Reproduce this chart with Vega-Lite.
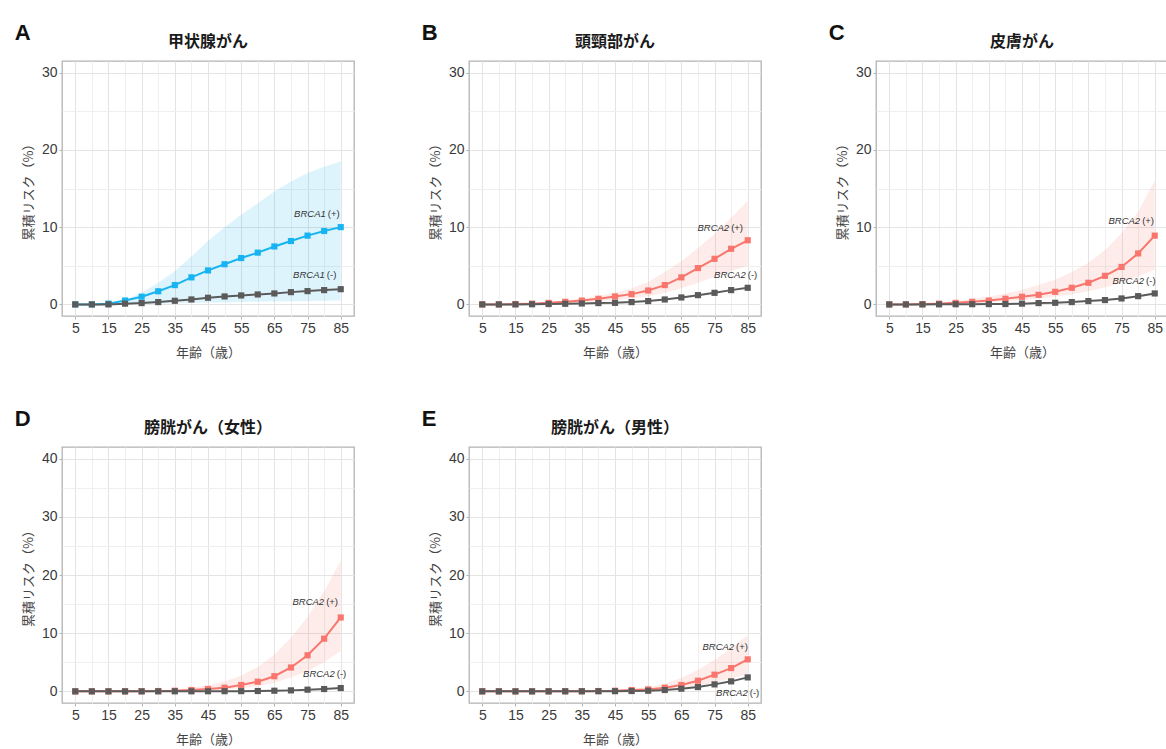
{
  "$schema": "https://vega.github.io/schema/vega-lite/v6.json",
  "background": "white",
  "padding": {"left": 14, "top": 22, "right": 0, "bottom": 0},
  "datasets": {
    "curves": [
      {"panel": "A", "series": "BRCA1+", "age": 5, "risk": 0, "lo": 0, "hi": 0},
      {"panel": "A", "series": "BRCA1+", "age": 10, "risk": 0, "lo": 0, "hi": 0},
      {"panel": "A", "series": "BRCA1+", "age": 15, "risk": 0.1, "lo": 0, "hi": 0.15},
      {"panel": "A", "series": "BRCA1+", "age": 20, "risk": 0.5, "lo": 0.03, "hi": 0.6},
      {"panel": "A", "series": "BRCA1+", "age": 25, "risk": 1.0, "lo": 0.06, "hi": 1.5},
      {"panel": "A", "series": "BRCA1+", "age": 30, "risk": 1.7, "lo": 0.1, "hi": 2.8},
      {"panel": "A", "series": "BRCA1+", "age": 35, "risk": 2.5, "lo": 0.14, "hi": 4.3},
      {"panel": "A", "series": "BRCA1+", "age": 40, "risk": 3.5, "lo": 0.18, "hi": 6.2},
      {"panel": "A", "series": "BRCA1+", "age": 45, "risk": 4.4, "lo": 0.22, "hi": 8.2},
      {"panel": "A", "series": "BRCA1+", "age": 50, "risk": 5.2, "lo": 0.26, "hi": 10.0},
      {"panel": "A", "series": "BRCA1+", "age": 55, "risk": 6.0, "lo": 0.3, "hi": 11.6},
      {"panel": "A", "series": "BRCA1+", "age": 60, "risk": 6.7, "lo": 0.34, "hi": 13.1},
      {"panel": "A", "series": "BRCA1+", "age": 65, "risk": 7.5, "lo": 0.38, "hi": 14.6},
      {"panel": "A", "series": "BRCA1+", "age": 70, "risk": 8.2, "lo": 0.42, "hi": 15.9},
      {"panel": "A", "series": "BRCA1+", "age": 75, "risk": 8.9, "lo": 0.45, "hi": 17.0},
      {"panel": "A", "series": "BRCA1+", "age": 80, "risk": 9.5, "lo": 0.48, "hi": 17.8},
      {"panel": "A", "series": "BRCA1+", "age": 85, "risk": 10.0, "lo": 0.5, "hi": 18.5},
      {"panel": "A", "series": "neg", "age": 5, "risk": 0},
      {"panel": "A", "series": "neg", "age": 10, "risk": 0},
      {"panel": "A", "series": "neg", "age": 15, "risk": 0.0},
      {"panel": "A", "series": "neg", "age": 20, "risk": 0.1},
      {"panel": "A", "series": "neg", "age": 25, "risk": 0.17},
      {"panel": "A", "series": "neg", "age": 30, "risk": 0.3},
      {"panel": "A", "series": "neg", "age": 35, "risk": 0.47},
      {"panel": "A", "series": "neg", "age": 40, "risk": 0.64},
      {"panel": "A", "series": "neg", "age": 45, "risk": 0.86},
      {"panel": "A", "series": "neg", "age": 50, "risk": 1.03},
      {"panel": "A", "series": "neg", "age": 55, "risk": 1.16},
      {"panel": "A", "series": "neg", "age": 60, "risk": 1.29},
      {"panel": "A", "series": "neg", "age": 65, "risk": 1.42},
      {"panel": "A", "series": "neg", "age": 70, "risk": 1.59},
      {"panel": "A", "series": "neg", "age": 75, "risk": 1.72},
      {"panel": "A", "series": "neg", "age": 80, "risk": 1.85},
      {"panel": "A", "series": "neg", "age": 85, "risk": 1.97},

      {"panel": "B", "series": "BRCA2+", "age": 5, "risk": 0, "lo": 0, "hi": 0},
      {"panel": "B", "series": "BRCA2+", "age": 10, "risk": 0, "lo": 0, "hi": 0},
      {"panel": "B", "series": "BRCA2+", "age": 15, "risk": 0.04, "lo": 0.02, "hi": 0.05},
      {"panel": "B", "series": "BRCA2+", "age": 20, "risk": 0.1, "lo": 0.05, "hi": 0.15},
      {"panel": "B", "series": "BRCA2+", "age": 25, "risk": 0.2, "lo": 0.1, "hi": 0.3},
      {"panel": "B", "series": "BRCA2+", "age": 30, "risk": 0.34, "lo": 0.18, "hi": 0.5},
      {"panel": "B", "series": "BRCA2+", "age": 35, "risk": 0.5, "lo": 0.28, "hi": 0.75},
      {"panel": "B", "series": "BRCA2+", "age": 40, "risk": 0.73, "lo": 0.4, "hi": 1.1},
      {"panel": "B", "series": "BRCA2+", "age": 45, "risk": 1.03, "lo": 0.55, "hi": 1.5},
      {"panel": "B", "series": "BRCA2+", "age": 50, "risk": 1.33, "lo": 0.75, "hi": 2.1},
      {"panel": "B", "series": "BRCA2+", "age": 55, "risk": 1.8, "lo": 1.05, "hi": 2.9},
      {"panel": "B", "series": "BRCA2+", "age": 60, "risk": 2.5, "lo": 1.5, "hi": 4.2},
      {"panel": "B", "series": "BRCA2+", "age": 65, "risk": 3.5, "lo": 2.1, "hi": 5.6},
      {"panel": "B", "series": "BRCA2+", "age": 70, "risk": 4.7, "lo": 2.8, "hi": 7.3},
      {"panel": "B", "series": "BRCA2+", "age": 75, "risk": 5.9, "lo": 3.5, "hi": 9.1},
      {"panel": "B", "series": "BRCA2+", "age": 80, "risk": 7.2, "lo": 4.3, "hi": 11.2},
      {"panel": "B", "series": "BRCA2+", "age": 85, "risk": 8.3, "lo": 5.0, "hi": 13.4},
      {"panel": "B", "series": "neg", "age": 5, "risk": 0},
      {"panel": "B", "series": "neg", "age": 10, "risk": 0},
      {"panel": "B", "series": "neg", "age": 15, "risk": 0},
      {"panel": "B", "series": "neg", "age": 20, "risk": 0.02},
      {"panel": "B", "series": "neg", "age": 25, "risk": 0.05},
      {"panel": "B", "series": "neg", "age": 30, "risk": 0.08},
      {"panel": "B", "series": "neg", "age": 35, "risk": 0.12},
      {"panel": "B", "series": "neg", "age": 40, "risk": 0.17},
      {"panel": "B", "series": "neg", "age": 45, "risk": 0.2},
      {"panel": "B", "series": "neg", "age": 50, "risk": 0.3},
      {"panel": "B", "series": "neg", "age": 55, "risk": 0.43},
      {"panel": "B", "series": "neg", "age": 60, "risk": 0.64},
      {"panel": "B", "series": "neg", "age": 65, "risk": 0.9},
      {"panel": "B", "series": "neg", "age": 70, "risk": 1.2},
      {"panel": "B", "series": "neg", "age": 75, "risk": 1.5},
      {"panel": "B", "series": "neg", "age": 80, "risk": 1.85},
      {"panel": "B", "series": "neg", "age": 85, "risk": 2.15},

      {"panel": "C", "series": "BRCA2+", "age": 5, "risk": 0, "lo": 0, "hi": 0},
      {"panel": "C", "series": "BRCA2+", "age": 10, "risk": 0, "lo": 0, "hi": 0.02},
      {"panel": "C", "series": "BRCA2+", "age": 15, "risk": 0.04, "lo": 0.02, "hi": 0.1},
      {"panel": "C", "series": "BRCA2+", "age": 20, "risk": 0.1, "lo": 0.05, "hi": 0.25},
      {"panel": "C", "series": "BRCA2+", "age": 25, "risk": 0.2, "lo": 0.1, "hi": 0.45},
      {"panel": "C", "series": "BRCA2+", "age": 30, "risk": 0.34, "lo": 0.18, "hi": 0.7},
      {"panel": "C", "series": "BRCA2+", "age": 35, "risk": 0.5, "lo": 0.28, "hi": 1.0},
      {"panel": "C", "series": "BRCA2+", "age": 40, "risk": 0.73, "lo": 0.4, "hi": 1.4},
      {"panel": "C", "series": "BRCA2+", "age": 45, "risk": 0.99, "lo": 0.55, "hi": 1.9},
      {"panel": "C", "series": "BRCA2+", "age": 50, "risk": 1.24, "lo": 0.75, "hi": 2.5},
      {"panel": "C", "series": "BRCA2+", "age": 55, "risk": 1.63, "lo": 1.0, "hi": 3.2},
      {"panel": "C", "series": "BRCA2+", "age": 60, "risk": 2.15, "lo": 1.3, "hi": 4.2},
      {"panel": "C", "series": "BRCA2+", "age": 65, "risk": 2.8, "lo": 1.7, "hi": 5.4},
      {"panel": "C", "series": "BRCA2+", "age": 70, "risk": 3.7, "lo": 2.2, "hi": 7.0},
      {"panel": "C", "series": "BRCA2+", "age": 75, "risk": 4.85, "lo": 2.8, "hi": 9.2},
      {"panel": "C", "series": "BRCA2+", "age": 80, "risk": 6.6, "lo": 3.6, "hi": 12.0},
      {"panel": "C", "series": "BRCA2+", "age": 85, "risk": 8.9, "lo": 4.5, "hi": 16.0},
      {"panel": "C", "series": "neg", "age": 5, "risk": 0},
      {"panel": "C", "series": "neg", "age": 10, "risk": 0},
      {"panel": "C", "series": "neg", "age": 15, "risk": 0},
      {"panel": "C", "series": "neg", "age": 20, "risk": 0.01},
      {"panel": "C", "series": "neg", "age": 25, "risk": 0.02},
      {"panel": "C", "series": "neg", "age": 30, "risk": 0.03},
      {"panel": "C", "series": "neg", "age": 35, "risk": 0.04},
      {"panel": "C", "series": "neg", "age": 40, "risk": 0.05},
      {"panel": "C", "series": "neg", "age": 45, "risk": 0.1},
      {"panel": "C", "series": "neg", "age": 50, "risk": 0.17},
      {"panel": "C", "series": "neg", "age": 55, "risk": 0.21},
      {"panel": "C", "series": "neg", "age": 60, "risk": 0.3},
      {"panel": "C", "series": "neg", "age": 65, "risk": 0.43},
      {"panel": "C", "series": "neg", "age": 70, "risk": 0.56},
      {"panel": "C", "series": "neg", "age": 75, "risk": 0.77},
      {"panel": "C", "series": "neg", "age": 80, "risk": 1.07},
      {"panel": "C", "series": "neg", "age": 85, "risk": 1.42},

      {"panel": "D", "series": "BRCA2+", "age": 5, "risk": 0, "lo": 0, "hi": 0},
      {"panel": "D", "series": "BRCA2+", "age": 10, "risk": 0, "lo": 0, "hi": 0},
      {"panel": "D", "series": "BRCA2+", "age": 15, "risk": 0, "lo": 0, "hi": 0.01},
      {"panel": "D", "series": "BRCA2+", "age": 20, "risk": 0.01, "lo": 0, "hi": 0.03},
      {"panel": "D", "series": "BRCA2+", "age": 25, "risk": 0.02, "lo": 0.01, "hi": 0.07},
      {"panel": "D", "series": "BRCA2+", "age": 30, "risk": 0.06, "lo": 0.02, "hi": 0.15},
      {"panel": "D", "series": "BRCA2+", "age": 35, "risk": 0.11, "lo": 0.05, "hi": 0.3},
      {"panel": "D", "series": "BRCA2+", "age": 40, "risk": 0.23, "lo": 0.1, "hi": 0.6},
      {"panel": "D", "series": "BRCA2+", "age": 45, "risk": 0.4, "lo": 0.18, "hi": 1.05},
      {"panel": "D", "series": "BRCA2+", "age": 50, "risk": 0.63, "lo": 0.3, "hi": 1.7},
      {"panel": "D", "series": "BRCA2+", "age": 55, "risk": 1.09, "lo": 0.55, "hi": 2.7},
      {"panel": "D", "series": "BRCA2+", "age": 60, "risk": 1.66, "lo": 0.9, "hi": 4.2},
      {"panel": "D", "series": "BRCA2+", "age": 65, "risk": 2.6, "lo": 1.5, "hi": 6.3},
      {"panel": "D", "series": "BRCA2+", "age": 70, "risk": 4.1, "lo": 2.4, "hi": 9.2},
      {"panel": "D", "series": "BRCA2+", "age": 75, "risk": 6.2, "lo": 3.5, "hi": 12.8},
      {"panel": "D", "series": "BRCA2+", "age": 80, "risk": 9.05, "lo": 5.0, "hi": 17.2},
      {"panel": "D", "series": "BRCA2+", "age": 85, "risk": 12.7, "lo": 7.0, "hi": 22.5},
      {"panel": "D", "series": "neg", "age": 5, "risk": 0},
      {"panel": "D", "series": "neg", "age": 10, "risk": 0},
      {"panel": "D", "series": "neg", "age": 15, "risk": 0},
      {"panel": "D", "series": "neg", "age": 20, "risk": 0},
      {"panel": "D", "series": "neg", "age": 25, "risk": 0},
      {"panel": "D", "series": "neg", "age": 30, "risk": 0},
      {"panel": "D", "series": "neg", "age": 35, "risk": 0.01},
      {"panel": "D", "series": "neg", "age": 40, "risk": 0.01},
      {"panel": "D", "series": "neg", "age": 45, "risk": 0.02},
      {"panel": "D", "series": "neg", "age": 50, "risk": 0.03},
      {"panel": "D", "series": "neg", "age": 55, "risk": 0.04},
      {"panel": "D", "series": "neg", "age": 60, "risk": 0.06},
      {"panel": "D", "series": "neg", "age": 65, "risk": 0.11},
      {"panel": "D", "series": "neg", "age": 70, "risk": 0.17},
      {"panel": "D", "series": "neg", "age": 75, "risk": 0.29},
      {"panel": "D", "series": "neg", "age": 80, "risk": 0.4},
      {"panel": "D", "series": "neg", "age": 85, "risk": 0.57},

      {"panel": "E", "series": "BRCA2+", "age": 5, "risk": 0, "lo": 0, "hi": 0},
      {"panel": "E", "series": "BRCA2+", "age": 10, "risk": 0, "lo": 0, "hi": 0},
      {"panel": "E", "series": "BRCA2+", "age": 15, "risk": 0, "lo": 0, "hi": 0},
      {"panel": "E", "series": "BRCA2+", "age": 20, "risk": 0, "lo": 0, "hi": 0.01},
      {"panel": "E", "series": "BRCA2+", "age": 25, "risk": 0.01, "lo": 0, "hi": 0.02},
      {"panel": "E", "series": "BRCA2+", "age": 30, "risk": 0.02, "lo": 0.01, "hi": 0.03},
      {"panel": "E", "series": "BRCA2+", "age": 35, "risk": 0.03, "lo": 0.01, "hi": 0.05},
      {"panel": "E", "series": "BRCA2+", "age": 40, "risk": 0.06, "lo": 0.03, "hi": 0.1},
      {"panel": "E", "series": "BRCA2+", "age": 45, "risk": 0.11, "lo": 0.05, "hi": 0.2},
      {"panel": "E", "series": "BRCA2+", "age": 50, "risk": 0.23, "lo": 0.1, "hi": 0.4},
      {"panel": "E", "series": "BRCA2+", "age": 55, "risk": 0.34, "lo": 0.18, "hi": 0.7},
      {"panel": "E", "series": "BRCA2+", "age": 60, "risk": 0.63, "lo": 0.35, "hi": 1.3},
      {"panel": "E", "series": "BRCA2+", "age": 65, "risk": 1.09, "lo": 0.6, "hi": 2.3},
      {"panel": "E", "series": "BRCA2+", "age": 70, "risk": 1.83, "lo": 1.0, "hi": 3.7},
      {"panel": "E", "series": "BRCA2+", "age": 75, "risk": 2.87, "lo": 1.5, "hi": 5.4},
      {"panel": "E", "series": "BRCA2+", "age": 80, "risk": 4.0, "lo": 2.2, "hi": 7.4},
      {"panel": "E", "series": "BRCA2+", "age": 85, "risk": 5.5, "lo": 3.0, "hi": 9.7},
      {"panel": "E", "series": "neg", "age": 5, "risk": 0},
      {"panel": "E", "series": "neg", "age": 10, "risk": 0},
      {"panel": "E", "series": "neg", "age": 15, "risk": 0},
      {"panel": "E", "series": "neg", "age": 20, "risk": 0},
      {"panel": "E", "series": "neg", "age": 25, "risk": 0},
      {"panel": "E", "series": "neg", "age": 30, "risk": 0.01},
      {"panel": "E", "series": "neg", "age": 35, "risk": 0.01},
      {"panel": "E", "series": "neg", "age": 40, "risk": 0.02},
      {"panel": "E", "series": "neg", "age": 45, "risk": 0.03},
      {"panel": "E", "series": "neg", "age": 50, "risk": 0.06},
      {"panel": "E", "series": "neg", "age": 55, "risk": 0.11},
      {"panel": "E", "series": "neg", "age": 60, "risk": 0.23},
      {"panel": "E", "series": "neg", "age": 65, "risk": 0.46},
      {"panel": "E", "series": "neg", "age": 70, "risk": 0.74},
      {"panel": "E", "series": "neg", "age": 75, "risk": 1.2},
      {"panel": "E", "series": "neg", "age": 80, "risk": 1.72},
      {"panel": "E", "series": "neg", "age": 85, "risk": 2.4}
    ],
    "labels": [
      {"panel": "A", "gene": "BRCA1", "suffix": "(+)", "age": 80.5, "risk": 11.7},
      {"panel": "A", "gene": "BRCA1", "suffix": "(-)", "age": 80.2, "risk": 3.8},
      {"panel": "B", "gene": "BRCA2", "suffix": "(+)", "age": 79.4, "risk": 9.9},
      {"panel": "B", "gene": "BRCA2", "suffix": "(-)", "age": 84.4, "risk": 3.8},
      {"panel": "C", "gene": "BRCA2", "suffix": "(+)", "age": 80.6, "risk": 10.8},
      {"panel": "C", "gene": "BRCA2", "suffix": "(-)", "age": 81.8, "risk": 3.05},
      {"panel": "D", "gene": "BRCA2", "suffix": "(+)", "age": 80.0, "risk": 15.4},
      {"panel": "D", "gene": "BRCA2", "suffix": "(-)", "age": 83.2, "risk": 3.0},
      {"panel": "E", "gene": "BRCA2", "suffix": "(+)", "age": 80.9, "risk": 7.7},
      {"panel": "E", "gene": "BRCA2", "suffix": "(-)", "age": 85.0, "risk": -0.3}
    ]
  },
  "config": {
    "font": "Liberation Sans",
    "view": {"stroke": "#b3b3b3", "strokeWidth": 1.3},
    "axis": {
      "domain": false,
      "tickColor": "#b3b3b3",
      "tickSize": 3,
      "labelFont": "Liberation Sans",
      "labelFontSize": 14,
      "labelColor": "#3a3a3a",
      "labelPadding": 2,
      "titleFont": "Noto Sans CJK JP",
      "titleFontSize": 13,
      "titleFontWeight": "normal",
      "titleColor": "#444444"
    },
    "title": {"font": "Noto Sans CJK JP", "color": "#1a1a1a"}
  },
  "vconcat": [
    {
      "hconcat": [
        {
          "title": {"text": "A", "anchor": "start", "font": "Liberation Sans", "fontSize": 22, "fontWeight": "bold", "color": "#111111", "offset": -12, "dx": -7},
          "vconcat": [
            {
              "title": {"text": "甲状腺がん", "fontSize": 16, "fontWeight": "bold", "offset": 11},
              "width": 292, "height": 255,
              "transform": [{"filter": "datum.panel == 'A'"}],
              "data": {"name": "curves"},
              "encoding": {
                "x": {"field": "age", "type": "quantitative", "scale": {"domain": [1, 89], "nice": false, "zero": false},
                  "axis": {"title": "年齢（歳）", "values": [5,10,15,20,25,30,35,40,45,50,55,60,65,70,75,80,85], "labelExpr": "datum.value % 10 == 5 ? datum.label : ''", "tickOpacity": {"condition": {"test": "datum.value % 10 == 5", "value": 1}, "value": 0}, "gridColor": {"condition": {"test": "datum.value % 10 == 5", "value": "#e4e4e4"}, "value": "#efefef"}, "titlePadding": 11}},
                "y": {"type": "quantitative", "scale": {"domain": [-1.5, 31.5], "nice": false, "zero": false},
                  "axis": {"title": "累積リスク（%）", "values": [0,5,10,15,20,25,30], "labelExpr": "datum.value % 10 == 0 ? datum.label : ''", "tickOpacity": {"condition": {"test": "datum.value % 10 == 0", "value": 1}, "value": 0}, "gridColor": {"condition": {"test": "datum.value % 10 == 0", "value": "#e4e4e4"}, "value": "#efefef"}, "titlePadding": 6}}
              },
              "layer": [
                {"transform": [{"filter": "datum.series != 'neg'"}], "mark": {"type": "area", "opacity": 0.14},
                  "encoding": {"y": {"field": "lo", "type": "quantitative"}, "y2": {"field": "hi"}, "color": {"field": "series", "type": "nominal", "scale": {"domain": ["BRCA1+", "BRCA2+", "neg"], "range": ["#18B4F2", "#F8766D", "#5a5a5a"]}, "legend": null}}},
                {"mark": {"type": "line", "strokeWidth": 2}, "encoding": {"y": {"field": "risk", "type": "quantitative"}, "color": {"field": "series", "type": "nominal", "legend": null}}},
                {"mark": {"type": "point", "shape": "square", "filled": true, "size": 38, "opacity": 1}, "encoding": {"y": {"field": "risk", "type": "quantitative"}, "color": {"field": "series", "type": "nominal", "legend": null}}},
                {"data": {"name": "labels"}, "transform": [{"filter": "datum.panel == 'A'"}], "mark": {"type": "text", "align": "right", "baseline": "middle", "fontStyle": "italic", "fontSize": 9.5, "color": "#333333"}, "encoding": {"y": {"field": "risk", "type": "quantitative"}, "text": {"field": "gene"}}},
                {"data": {"name": "labels"}, "transform": [{"filter": "datum.panel == 'A'"}], "mark": {"type": "text", "align": "left", "baseline": "middle", "dx": 2, "fontSize": 9.5, "color": "#333333"}, "encoding": {"y": {"field": "risk", "type": "quantitative"}, "text": {"field": "suffix"}}}
              ]
            }
          ]
        },
        {
          "title": {"text": "B", "anchor": "start", "font": "Liberation Sans", "fontSize": 22, "fontWeight": "bold", "color": "#111111", "offset": -12, "dx": -7},
          "vconcat": [
            {
              "title": {"text": "頭頸部がん", "fontSize": 16, "fontWeight": "bold", "offset": 11},
              "width": 292, "height": 255,
              "transform": [{"filter": "datum.panel == 'B'"}],
              "data": {"name": "curves"},
              "encoding": {
                "x": {"field": "age", "type": "quantitative", "scale": {"domain": [1, 89], "nice": false, "zero": false},
                  "axis": {"title": "年齢（歳）", "values": [5,10,15,20,25,30,35,40,45,50,55,60,65,70,75,80,85], "labelExpr": "datum.value % 10 == 5 ? datum.label : ''", "tickOpacity": {"condition": {"test": "datum.value % 10 == 5", "value": 1}, "value": 0}, "gridColor": {"condition": {"test": "datum.value % 10 == 5", "value": "#e4e4e4"}, "value": "#efefef"}, "titlePadding": 11}},
                "y": {"type": "quantitative", "scale": {"domain": [-1.5, 31.5], "nice": false, "zero": false},
                  "axis": {"title": "累積リスク（%）", "values": [0,5,10,15,20,25,30], "labelExpr": "datum.value % 10 == 0 ? datum.label : ''", "tickOpacity": {"condition": {"test": "datum.value % 10 == 0", "value": 1}, "value": 0}, "gridColor": {"condition": {"test": "datum.value % 10 == 0", "value": "#e4e4e4"}, "value": "#efefef"}, "titlePadding": 6}}
              },
              "layer": [
                {"transform": [{"filter": "datum.series != 'neg'"}], "mark": {"type": "area", "opacity": 0.14},
                  "encoding": {"y": {"field": "lo", "type": "quantitative"}, "y2": {"field": "hi"}, "color": {"field": "series", "type": "nominal", "scale": {"domain": ["BRCA1+", "BRCA2+", "neg"], "range": ["#18B4F2", "#F8766D", "#5a5a5a"]}, "legend": null}}},
                {"mark": {"type": "line", "strokeWidth": 2}, "encoding": {"y": {"field": "risk", "type": "quantitative"}, "color": {"field": "series", "type": "nominal", "legend": null}}},
                {"mark": {"type": "point", "shape": "square", "filled": true, "size": 38, "opacity": 1}, "encoding": {"y": {"field": "risk", "type": "quantitative"}, "color": {"field": "series", "type": "nominal", "legend": null}}},
                {"data": {"name": "labels"}, "transform": [{"filter": "datum.panel == 'B'"}], "mark": {"type": "text", "align": "right", "baseline": "middle", "fontStyle": "italic", "fontSize": 9.5, "color": "#333333"}, "encoding": {"y": {"field": "risk", "type": "quantitative"}, "text": {"field": "gene"}}},
                {"data": {"name": "labels"}, "transform": [{"filter": "datum.panel == 'B'"}], "mark": {"type": "text", "align": "left", "baseline": "middle", "dx": 2, "fontSize": 9.5, "color": "#333333"}, "encoding": {"y": {"field": "risk", "type": "quantitative"}, "text": {"field": "suffix"}}}
              ]
            }
          ]
        },
        {
          "title": {"text": "C", "anchor": "start", "font": "Liberation Sans", "fontSize": 22, "fontWeight": "bold", "color": "#111111", "offset": -12, "dx": -7},
          "vconcat": [
            {
              "title": {"text": "皮膚がん", "fontSize": 16, "fontWeight": "bold", "offset": 11},
              "width": 292, "height": 255,
              "transform": [{"filter": "datum.panel == 'C'"}],
              "data": {"name": "curves"},
              "encoding": {
                "x": {"field": "age", "type": "quantitative", "scale": {"domain": [1, 89], "nice": false, "zero": false},
                  "axis": {"title": "年齢（歳）", "values": [5,10,15,20,25,30,35,40,45,50,55,60,65,70,75,80,85], "labelExpr": "datum.value % 10 == 5 ? datum.label : ''", "tickOpacity": {"condition": {"test": "datum.value % 10 == 5", "value": 1}, "value": 0}, "gridColor": {"condition": {"test": "datum.value % 10 == 5", "value": "#e4e4e4"}, "value": "#efefef"}, "titlePadding": 11}},
                "y": {"type": "quantitative", "scale": {"domain": [-1.5, 31.5], "nice": false, "zero": false},
                  "axis": {"title": "累積リスク（%）", "values": [0,5,10,15,20,25,30], "labelExpr": "datum.value % 10 == 0 ? datum.label : ''", "tickOpacity": {"condition": {"test": "datum.value % 10 == 0", "value": 1}, "value": 0}, "gridColor": {"condition": {"test": "datum.value % 10 == 0", "value": "#e4e4e4"}, "value": "#efefef"}, "titlePadding": 6}}
              },
              "layer": [
                {"transform": [{"filter": "datum.series != 'neg'"}], "mark": {"type": "area", "opacity": 0.14},
                  "encoding": {"y": {"field": "lo", "type": "quantitative"}, "y2": {"field": "hi"}, "color": {"field": "series", "type": "nominal", "scale": {"domain": ["BRCA1+", "BRCA2+", "neg"], "range": ["#18B4F2", "#F8766D", "#5a5a5a"]}, "legend": null}}},
                {"mark": {"type": "line", "strokeWidth": 2}, "encoding": {"y": {"field": "risk", "type": "quantitative"}, "color": {"field": "series", "type": "nominal", "legend": null}}},
                {"mark": {"type": "point", "shape": "square", "filled": true, "size": 38, "opacity": 1}, "encoding": {"y": {"field": "risk", "type": "quantitative"}, "color": {"field": "series", "type": "nominal", "legend": null}}},
                {"data": {"name": "labels"}, "transform": [{"filter": "datum.panel == 'C'"}], "mark": {"type": "text", "align": "right", "baseline": "middle", "fontStyle": "italic", "fontSize": 9.5, "color": "#333333"}, "encoding": {"y": {"field": "risk", "type": "quantitative"}, "text": {"field": "gene"}}},
                {"data": {"name": "labels"}, "transform": [{"filter": "datum.panel == 'C'"}], "mark": {"type": "text", "align": "left", "baseline": "middle", "dx": 2, "fontSize": 9.5, "color": "#333333"}, "encoding": {"y": {"field": "risk", "type": "quantitative"}, "text": {"field": "suffix"}}}
              ]
            }
          ]
        }
      ],
      "spacing": 66
    },
    {
      "hconcat": [
        {
          "title": {"text": "D", "anchor": "start", "font": "Liberation Sans", "fontSize": 22, "fontWeight": "bold", "color": "#111111", "offset": -12, "dx": -7},
          "vconcat": [
            {
              "title": {"text": "膀胱がん（女性）", "fontSize": 16, "fontWeight": "bold", "offset": 11},
              "width": 292, "height": 256,
              "transform": [{"filter": "datum.panel == 'D'"}],
              "data": {"name": "curves"},
              "encoding": {
                "x": {"field": "age", "type": "quantitative", "scale": {"domain": [1, 89], "nice": false, "zero": false},
                  "axis": {"title": "年齢（歳）", "values": [5,10,15,20,25,30,35,40,45,50,55,60,65,70,75,80,85], "labelExpr": "datum.value % 10 == 5 ? datum.label : ''", "tickOpacity": {"condition": {"test": "datum.value % 10 == 5", "value": 1}, "value": 0}, "gridColor": {"condition": {"test": "datum.value % 10 == 5", "value": "#e4e4e4"}, "value": "#efefef"}, "titlePadding": 11}},
                "y": {"type": "quantitative", "scale": {"domain": [-2, 42], "nice": false, "zero": false},
                  "axis": {"title": "累積リスク（%）", "values": [0,5,10,15,20,25,30,35,40], "labelExpr": "datum.value % 10 == 0 ? datum.label : ''", "tickOpacity": {"condition": {"test": "datum.value % 10 == 0", "value": 1}, "value": 0}, "gridColor": {"condition": {"test": "datum.value % 10 == 0", "value": "#e4e4e4"}, "value": "#efefef"}, "titlePadding": 6}}
              },
              "layer": [
                {"transform": [{"filter": "datum.series != 'neg'"}], "mark": {"type": "area", "opacity": 0.14},
                  "encoding": {"y": {"field": "lo", "type": "quantitative"}, "y2": {"field": "hi"}, "color": {"field": "series", "type": "nominal", "scale": {"domain": ["BRCA1+", "BRCA2+", "neg"], "range": ["#18B4F2", "#F8766D", "#5a5a5a"]}, "legend": null}}},
                {"mark": {"type": "line", "strokeWidth": 2}, "encoding": {"y": {"field": "risk", "type": "quantitative"}, "color": {"field": "series", "type": "nominal", "legend": null}}},
                {"mark": {"type": "point", "shape": "square", "filled": true, "size": 38, "opacity": 1}, "encoding": {"y": {"field": "risk", "type": "quantitative"}, "color": {"field": "series", "type": "nominal", "legend": null}}},
                {"data": {"name": "labels"}, "transform": [{"filter": "datum.panel == 'D'"}], "mark": {"type": "text", "align": "right", "baseline": "middle", "fontStyle": "italic", "fontSize": 9.5, "color": "#333333"}, "encoding": {"y": {"field": "risk", "type": "quantitative"}, "text": {"field": "gene"}}},
                {"data": {"name": "labels"}, "transform": [{"filter": "datum.panel == 'D'"}], "mark": {"type": "text", "align": "left", "baseline": "middle", "dx": 2, "fontSize": 9.5, "color": "#333333"}, "encoding": {"y": {"field": "risk", "type": "quantitative"}, "text": {"field": "suffix"}}}
              ]
            }
          ]
        },
        {
          "title": {"text": "E", "anchor": "start", "font": "Liberation Sans", "fontSize": 22, "fontWeight": "bold", "color": "#111111", "offset": -12, "dx": -7},
          "vconcat": [
            {
              "title": {"text": "膀胱がん（男性）", "fontSize": 16, "fontWeight": "bold", "offset": 11},
              "width": 292, "height": 256,
              "transform": [{"filter": "datum.panel == 'E'"}],
              "data": {"name": "curves"},
              "encoding": {
                "x": {"field": "age", "type": "quantitative", "scale": {"domain": [1, 89], "nice": false, "zero": false},
                  "axis": {"title": "年齢（歳）", "values": [5,10,15,20,25,30,35,40,45,50,55,60,65,70,75,80,85], "labelExpr": "datum.value % 10 == 5 ? datum.label : ''", "tickOpacity": {"condition": {"test": "datum.value % 10 == 5", "value": 1}, "value": 0}, "gridColor": {"condition": {"test": "datum.value % 10 == 5", "value": "#e4e4e4"}, "value": "#efefef"}, "titlePadding": 11}},
                "y": {"type": "quantitative", "scale": {"domain": [-2, 42], "nice": false, "zero": false},
                  "axis": {"title": "累積リスク（%）", "values": [0,5,10,15,20,25,30,35,40], "labelExpr": "datum.value % 10 == 0 ? datum.label : ''", "tickOpacity": {"condition": {"test": "datum.value % 10 == 0", "value": 1}, "value": 0}, "gridColor": {"condition": {"test": "datum.value % 10 == 0", "value": "#e4e4e4"}, "value": "#efefef"}, "titlePadding": 6}}
              },
              "layer": [
                {"transform": [{"filter": "datum.series != 'neg'"}], "mark": {"type": "area", "opacity": 0.14},
                  "encoding": {"y": {"field": "lo", "type": "quantitative"}, "y2": {"field": "hi"}, "color": {"field": "series", "type": "nominal", "scale": {"domain": ["BRCA1+", "BRCA2+", "neg"], "range": ["#18B4F2", "#F8766D", "#5a5a5a"]}, "legend": null}}},
                {"mark": {"type": "line", "strokeWidth": 2}, "encoding": {"y": {"field": "risk", "type": "quantitative"}, "color": {"field": "series", "type": "nominal", "legend": null}}},
                {"mark": {"type": "point", "shape": "square", "filled": true, "size": 38, "opacity": 1}, "encoding": {"y": {"field": "risk", "type": "quantitative"}, "color": {"field": "series", "type": "nominal", "legend": null}}},
                {"data": {"name": "labels"}, "transform": [{"filter": "datum.panel == 'E'"}], "mark": {"type": "text", "align": "right", "baseline": "middle", "fontStyle": "italic", "fontSize": 9.5, "color": "#333333"}, "encoding": {"y": {"field": "risk", "type": "quantitative"}, "text": {"field": "gene"}}},
                {"data": {"name": "labels"}, "transform": [{"filter": "datum.panel == 'E'"}], "mark": {"type": "text", "align": "left", "baseline": "middle", "dx": 2, "fontSize": 9.5, "color": "#333333"}, "encoding": {"y": {"field": "risk", "type": "quantitative"}, "text": {"field": "suffix"}}}
              ]
            }
          ]
        }
      ],
      "spacing": 66
    }
  ],
  "spacing": 48
}
